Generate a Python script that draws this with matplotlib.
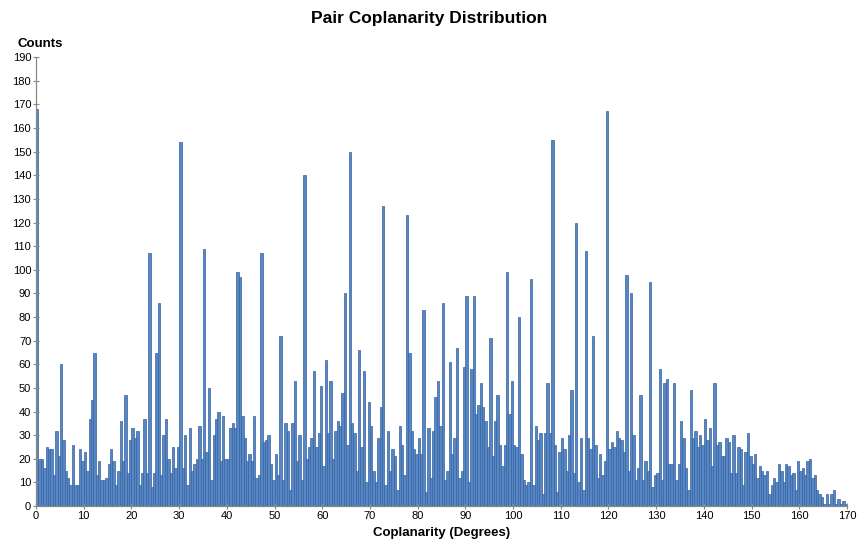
import numpy as np
import matplotlib.pyplot as plt

plt.rcParams['font.family'] = ['Liberation Sans', 'DejaVu Sans']

# histogram of pair coplanarity angles, 0.5 degree bins from 0 to 170
bin_width = 0.5
counts = [
    168, 20, 20, 16, 25, 24, 24, 13, 32, 21, 60, 28, 15, 12, 9, 26, 9, 9, 24, 19,
    23, 15, 37, 45, 65, 13, 19, 11, 11, 12, 18, 24, 19, 9, 15, 36, 19, 47, 14, 28,
    33, 29, 32, 9, 14, 37, 14, 107, 8, 14, 65, 86, 13, 30, 37, 20, 14, 25, 16, 25,
    154, 16, 30, 9, 33, 15, 18, 20, 34, 20, 109, 23, 50, 11, 30, 37, 40, 19, 38, 20,
    20, 33, 35, 33, 99, 97, 38, 29, 19, 22, 19, 38, 12, 13, 107, 27, 28, 30, 18, 11,
    22, 13, 72, 11, 35, 32, 7, 35, 53, 19, 30, 11, 140, 20, 25, 29, 57, 25, 31, 51,
    17, 62, 31, 53, 20, 32, 36, 34, 48, 90, 26, 150, 35, 31, 15, 66, 25, 57, 10, 44,
    34, 15, 10, 29, 42, 127, 9, 32, 15, 24, 21, 7, 34, 26, 13, 123, 65, 32, 24, 22,
    29, 22, 83, 6, 33, 12, 32, 46, 53, 34, 86, 11, 15, 61, 22, 29, 67, 12, 15, 59,
    89, 10, 58, 89, 39, 43, 52, 42, 36, 25, 71, 21, 36, 47, 26, 17, 26, 99, 39, 53,
    26, 25, 80, 22, 11, 9, 10, 96, 9, 34, 28, 31, 5, 31, 52, 31, 155, 26, 6, 23,
    29, 24, 15, 30, 49, 14, 120, 10, 29, 7, 108, 29, 24, 72, 26, 12, 22, 13, 19, 167,
    24, 27, 25, 32, 29, 28, 23, 98, 15, 90, 30, 11, 16, 47, 11, 19, 15, 95, 8, 13,
    14, 58, 11, 52, 54, 18, 18, 52, 11, 18, 36, 29, 16, 7, 49, 29, 32, 25, 30, 26,
    37, 28, 33, 17, 52, 26, 27, 21, 21, 29, 27, 14, 30, 14, 25, 24, 9, 23, 31, 21,
    18, 22, 12, 17, 15, 13, 15, 5, 9, 12, 10, 18, 15, 10, 18, 17, 13, 14, 7, 19,
    15, 16, 13, 19, 20, 12, 13, 7, 5, 4, 1, 5, 1, 5, 7, 1, 3, 1, 2, 1,
]
bin_starts = np.arange(len(counts)) * bin_width

x_ticks = np.arange(0, 171, 10)
y_ticks = np.arange(0, 191, 10)

fig = plt.figure(figsize=(8.59, 5.39), dpi=100)
ax = fig.add_axes([0.042, 0.061, 0.944, 0.833])

ax.bar(bin_starts, counts, width=bin_width, align='edge',
       color='#5886c4', edgecolor='#35649f', linewidth=0.5)

ax.set_xlim(0, 170)
ax.set_ylim(0, 190)
ax.set_xticks(x_ticks)
ax.set_yticks(y_ticks)
ax.tick_params(direction='inout', length=5, width=0.8, color='#888888',
               labelsize=8, pad=1)

for side in ['top', 'right']:
    ax.spines[side].set_visible(False)
for side in ['left', 'bottom']:
    ax.spines[side].set_color('#888888')
    ax.spines[side].set_linewidth(0.9)

ax.set_xlabel('Coplanarity (Degrees)', fontsize=9.5, fontweight='bold', labelpad=4)
fig.text(0.02, 0.913, 'Counts', fontsize=9.5, fontweight='bold', ha='left')
fig.text(0.5, 0.957, 'Pair Coplanarity Distribution', fontsize=12.5,
         fontweight='bold', ha='center')

fig.savefig('out.png', dpi=100)
